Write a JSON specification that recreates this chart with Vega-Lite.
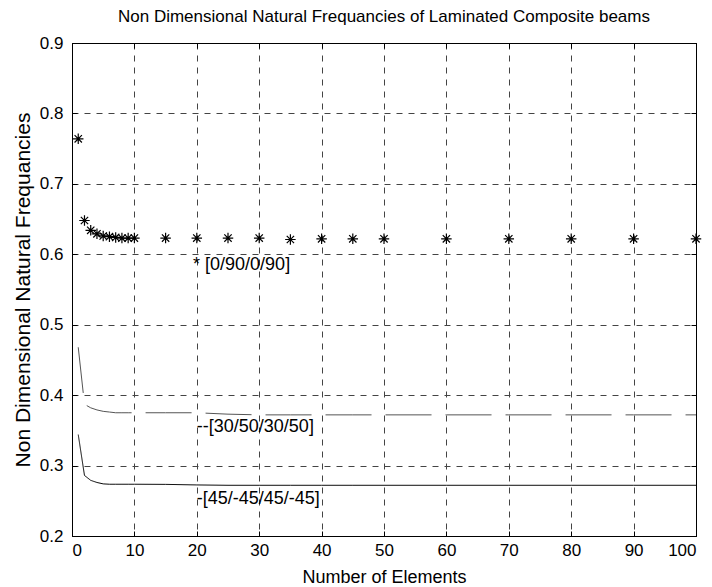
{
  "$schema": "https://vega.github.io/schema/vega-lite/v6.json",
  "width": 624,
  "height": 493,
  "autosize": {"type": "none"},
  "padding": {"left": 72, "top": 43, "right": 16, "bottom": 51},
  "background": "white",
  "title": {
    "text": "Non Dimensional Natural Frequancies of Laminated Composite beams",
    "fontSize": 17,
    "fontWeight": "normal",
    "font": "Liberation Sans",
    "color": "black",
    "anchor": "middle",
    "frame": "group",
    "offset": 8
  },
  "config": {
    "font": "Liberation Sans",
    "view": {"stroke": "black", "strokeWidth": 1},
    "axis": {
      "labelFont": "Liberation Sans",
      "titleFont": "Liberation Sans",
      "labelColor": "black",
      "titleColor": "black",
      "labelFontSize": 17,
      "titleFontSize": 18,
      "titleFontWeight": "normal",
      "domainColor": "black",
      "tickColor": "black",
      "gridColor": "#444444",
      "gridOpacity": 1,
      "gridDash": [6, 6],
      "gridWidth": 1
    }
  },
  "datasets": {
    "series": [
      {"x": 1, "y": 0.764, "series": "[0/90/0/90]"},
      {"x": 2, "y": 0.648, "series": "[0/90/0/90]"},
      {"x": 3, "y": 0.634, "series": "[0/90/0/90]"},
      {"x": 4, "y": 0.629, "series": "[0/90/0/90]"},
      {"x": 5, "y": 0.626, "series": "[0/90/0/90]"},
      {"x": 6, "y": 0.625, "series": "[0/90/0/90]"},
      {"x": 7, "y": 0.624, "series": "[0/90/0/90]"},
      {"x": 8, "y": 0.623, "series": "[0/90/0/90]"},
      {"x": 9, "y": 0.623, "series": "[0/90/0/90]"},
      {"x": 10, "y": 0.623, "series": "[0/90/0/90]"},
      {"x": 15, "y": 0.623, "series": "[0/90/0/90]"},
      {"x": 20, "y": 0.623, "series": "[0/90/0/90]"},
      {"x": 25, "y": 0.623, "series": "[0/90/0/90]"},
      {"x": 30, "y": 0.623, "series": "[0/90/0/90]"},
      {"x": 35, "y": 0.621, "series": "[0/90/0/90]"},
      {"x": 40, "y": 0.622, "series": "[0/90/0/90]"},
      {"x": 45, "y": 0.622, "series": "[0/90/0/90]"},
      {"x": 50, "y": 0.622, "series": "[0/90/0/90]"},
      {"x": 60, "y": 0.622, "series": "[0/90/0/90]"},
      {"x": 70, "y": 0.622, "series": "[0/90/0/90]"},
      {"x": 80, "y": 0.622, "series": "[0/90/0/90]"},
      {"x": 90, "y": 0.622, "series": "[0/90/0/90]"},
      {"x": 100, "y": 0.622, "series": "[0/90/0/90]"},
      {"x": 1, "y": 0.468, "series": "[30/50/30/50]"},
      {"x": 2, "y": 0.387, "series": "[30/50/30/50]"},
      {"x": 3, "y": 0.382, "series": "[30/50/30/50]"},
      {"x": 4, "y": 0.379, "series": "[30/50/30/50]"},
      {"x": 5, "y": 0.377, "series": "[30/50/30/50]"},
      {"x": 6, "y": 0.376, "series": "[30/50/30/50]"},
      {"x": 7, "y": 0.375, "series": "[30/50/30/50]"},
      {"x": 8, "y": 0.375, "series": "[30/50/30/50]"},
      {"x": 9, "y": 0.375, "series": "[30/50/30/50]"},
      {"x": 10, "y": 0.375, "series": "[30/50/30/50]"},
      {"x": 15, "y": 0.375, "series": "[30/50/30/50]"},
      {"x": 20, "y": 0.375, "series": "[30/50/30/50]"},
      {"x": 25, "y": 0.373, "series": "[30/50/30/50]"},
      {"x": 30, "y": 0.372, "series": "[30/50/30/50]"},
      {"x": 35, "y": 0.372, "series": "[30/50/30/50]"},
      {"x": 40, "y": 0.372, "series": "[30/50/30/50]"},
      {"x": 45, "y": 0.372, "series": "[30/50/30/50]"},
      {"x": 50, "y": 0.372, "series": "[30/50/30/50]"},
      {"x": 60, "y": 0.372, "series": "[30/50/30/50]"},
      {"x": 70, "y": 0.372, "series": "[30/50/30/50]"},
      {"x": 80, "y": 0.372, "series": "[30/50/30/50]"},
      {"x": 90, "y": 0.372, "series": "[30/50/30/50]"},
      {"x": 100, "y": 0.372, "series": "[30/50/30/50]"},
      {"x": 1, "y": 0.344, "series": "[45/-45/45/-45]"},
      {"x": 2, "y": 0.286, "series": "[45/-45/45/-45]"},
      {"x": 3, "y": 0.279, "series": "[45/-45/45/-45]"},
      {"x": 4, "y": 0.276, "series": "[45/-45/45/-45]"},
      {"x": 5, "y": 0.274, "series": "[45/-45/45/-45]"},
      {"x": 6, "y": 0.2735, "series": "[45/-45/45/-45]"},
      {"x": 7, "y": 0.2735, "series": "[45/-45/45/-45]"},
      {"x": 8, "y": 0.2735, "series": "[45/-45/45/-45]"},
      {"x": 9, "y": 0.2735, "series": "[45/-45/45/-45]"},
      {"x": 10, "y": 0.2735, "series": "[45/-45/45/-45]"},
      {"x": 15, "y": 0.2733, "series": "[45/-45/45/-45]"},
      {"x": 20, "y": 0.2725, "series": "[45/-45/45/-45]"},
      {"x": 25, "y": 0.272, "series": "[45/-45/45/-45]"},
      {"x": 30, "y": 0.272, "series": "[45/-45/45/-45]"},
      {"x": 35, "y": 0.272, "series": "[45/-45/45/-45]"},
      {"x": 40, "y": 0.272, "series": "[45/-45/45/-45]"},
      {"x": 45, "y": 0.272, "series": "[45/-45/45/-45]"},
      {"x": 50, "y": 0.272, "series": "[45/-45/45/-45]"},
      {"x": 60, "y": 0.272, "series": "[45/-45/45/-45]"},
      {"x": 70, "y": 0.272, "series": "[45/-45/45/-45]"},
      {"x": 80, "y": 0.272, "series": "[45/-45/45/-45]"},
      {"x": 90, "y": 0.272, "series": "[45/-45/45/-45]"},
      {"x": 100, "y": 0.272, "series": "[45/-45/45/-45]"}
    ],
    "labels": [
      {"x": 19.4, "y": 0.578, "text": "* [0/90/0/90]"},
      {"x": 20, "y": 0.348, "text": "--[30/50/30/50]"},
      {"x": 20, "y": 0.246, "text": "-[45/-45/45/-45]"}
    ]
  },
  "resolve": {"axis": {"x": "independent", "y": "independent"}},
  "layer": [
    {
      "data": {"name": "series"},
      "transform": [{"filter": "datum.series === '[0/90/0/90]'"}],
      "mark": {
        "type": "point",
        "shape": "M-1,0L1,0M0,-1L0,1M-0.7,-0.7L0.7,0.7M-0.7,0.7L0.7,-0.7",
        "filled": false,
        "stroke": "black",
        "strokeWidth": 1.2,
        "size": 110,
        "opacity": 1
      },
      "encoding": {
        "x": {
          "field": "x",
          "type": "quantitative",
          "scale": {"domain": [0, 100], "nice": false, "zero": false},
          "axis": {
            "orient": "bottom",
            "title": "Number of Elements",
            "values": [0, 10, 20, 30, 40, 50, 60, 70, 80, 90, 100],
            "grid": true,
            "tickSize": -5,
            "labelPadding": 11,
            "titleBaseline": "alphabetic",
            "titleY": 46
          }
        },
        "y": {
          "field": "y",
          "type": "quantitative",
          "scale": {"domain": [0.2, 0.9], "nice": false, "zero": false},
          "axis": {
            "orient": "left",
            "title": "Non Dimensional Natural Frequancies",
            "titleFontSize": 21,
            "values": [0.2, 0.3, 0.4, 0.5, 0.6, 0.7, 0.8, 0.9],
            "format": ".1f",
            "grid": true,
            "tickSize": -5,
            "labelPadding": 14,
            "titleBaseline": "alphabetic",
            "titleX": -43
          }
        }
      }
    },
    {
      "data": {"name": "series"},
      "transform": [{"filter": "datum.series !== '[0/90/0/90]'"}],
      "mark": {"type": "line", "strokeWidth": 1},
      "encoding": {
        "x": {"field": "x", "type": "quantitative", "axis": null},
        "y": {"field": "y", "type": "quantitative", "axis": null},
        "detail": {"field": "series"},
        "color": {
          "field": "series",
          "type": "nominal",
          "scale": {"domain": ["[30/50/30/50]", "[45/-45/45/-45]"], "range": ["#555555", "#000000"]},
          "legend": null
        },
        "strokeDash": {
          "field": "series",
          "type": "nominal",
          "scale": {"domain": ["[30/50/30/50]", "[45/-45/45/-45]"], "range": [[46, 14], [1, 0]]},
          "legend": null
        }
      }
    },
    {
      "data": {"name": "labels"},
      "mark": {"type": "text", "align": "left", "baseline": "alphabetic", "fontSize": 18, "font": "Liberation Sans", "color": "black"},
      "encoding": {
        "x": {
          "field": "x",
          "type": "quantitative",
          "axis": {"orient": "top", "labels": false, "title": null, "grid": false, "tickSize": -5, "values": [0, 10, 20, 30, 40, 50, 60, 70, 80, 90, 100]}
        },
        "y": {
          "field": "y",
          "type": "quantitative",
          "axis": {"orient": "right", "labels": false, "title": null, "grid": false, "tickSize": -5, "values": [0.2, 0.3, 0.4, 0.5, 0.6, 0.7, 0.8, 0.9]}
        },
        "text": {"field": "text"}
      }
    }
  ]
}
